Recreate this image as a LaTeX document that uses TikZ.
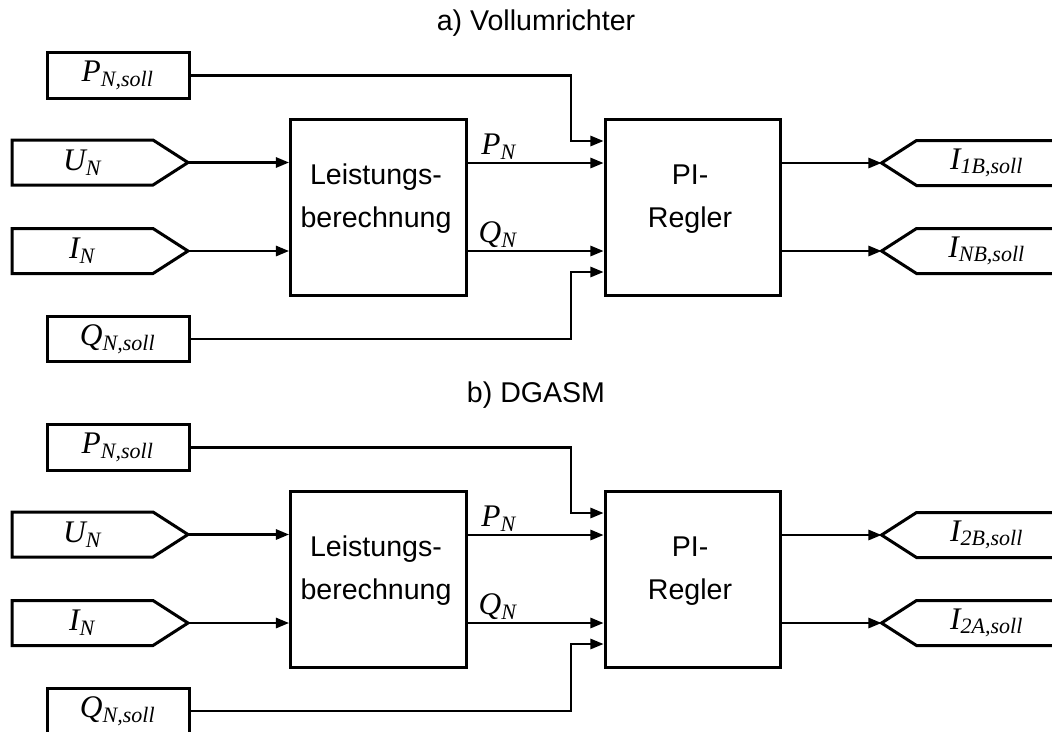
\documentclass[tikz,border=0pt]{standalone}
\usepackage{fontspec}
\setmainfont{Liberation Sans}
\newfontfamily\tnr{Liberation Serif}
\usepackage{tikz}
\usetikzlibrary{calc,arrows.meta,positioning}

\newcommand{\lblfont}{\tnr\itshape\fontsize{11}{13}\selectfont}
\newcommand{\sig}[2]{#1\textsubscript{#2}}

\tikzset{
  blk/.style={draw, line width=1.05pt, minimum width=61.6pt, minimum height=61.6pt, inner sep=0pt},
  sollbox/.style={draw, line width=1.05pt, minimum width=49.7pt, minimum height=15.9pt, inner sep=0pt, font=\lblfont},
  portbox/.style={minimum width=49.35pt, minimum height=15.75pt, inner sep=0pt, outer sep=0pt, font=\lblfont},
  frame/.style={line width=1.05pt, line join=miter},
  wire/.style={line width=0.75pt, -{Triangle[length=4.6pt,width=3.6pt]}},
  blktext/.style={align=center, font=\fontsize{10}{15}\selectfont},
}

\begin{document}
\begin{tikzpicture}[x=0.35pt, y=-0.35pt, line cap=butt]

% ---------------------------------------------------------
% Frame of the picture (pixel coordinates, y downwards)
% ---------------------------------------------------------
\useasboundingbox (0,0) rectangle (1052,731);
\clip (0,0) rectangle (1052,731);

\foreach \dy/\p/\ttl/\outA/\outB in {0/a/Vollumrichter/1B/NB, 372/b/DGASM/2B/2A}{
\begin{scope}[shift={(0,\dy)}]

% ---------------------------------------------------------
% Title
% ---------------------------------------------------------
\node[font=\fontsize{10}{12}\selectfont] (T\p) at (536,23) {\p) \ttl};

% ---------------------------------------------------------
% Blocks
% ---------------------------------------------------------
\node[blk] (LB\p) at (378.5,207) {};
\node[blktext] (LBt\p) at (376,199) {Leistungs-\\berechnung};

\node[blk, minimum width=61.25pt] (PI\p) at (692.5,207) {};
\node[blktext] (PIt\p) at (690,199) {PI-\\Regler};

% ---------------------------------------------------------
% Set points
% ---------------------------------------------------------
\node[sollbox] (PS\p) at (118,75.5) {\sig{P}{N,soll}};
\node[sollbox] (QS\p) at (118,339) {\sig{Q}{N,soll}};

% ---------------------------------------------------------
% Measured inputs (pointing east)
% ---------------------------------------------------------
\node[portbox] (UN\p) at (82.5,162.5) {\sig{U}{N}};
\draw[frame] (UN\p.north west) -- (UN\p.north east) -- ++(35,22.5) coordinate (UNtip\p)
  -- (UN\p.south east) -- (UN\p.south west) -- cycle;

\node[portbox] (IN\p) at (82.5,251) {\sig{I}{N}};
\draw[frame] (IN\p.north west) -- (IN\p.north east) -- ++(35,22.5) coordinate (INtip\p)
  -- (IN\p.south east) -- (IN\p.south west) -- cycle;

% ---------------------------------------------------------
% Outputs (pointing west)
% ---------------------------------------------------------
\node[portbox] (IA\p) at (987,163) {\sig{I}{\outA,soll}};
\draw[frame] (IA\p.north east) -- (IA\p.north west) -- ++(-35,22.5) coordinate (IAtip\p)
  -- (IA\p.south west) -- (IA\p.south east) -- cycle;

\node[portbox] (IB\p) at (987,251) {\sig{I}{\outB,soll}};
\draw[frame] (IB\p.north east) -- (IB\p.north west) -- ++(-35,22.5) coordinate (IBtip\p)
  -- (IB\p.south west) -- (IB\p.south east) -- cycle;

% ---------------------------------------------------------
% Connectors
% ---------------------------------------------------------
\draw[wire] (UNtip\p) -- (UNtip\p -| LB\p.west);
\draw[wire] (INtip\p) -- (INtip\p -| LB\p.west);

\draw[wire] (LB\p.east |- IAtip\p) -- (PI\p.west |- IAtip\p);
\draw[wire] (LB\p.east |- IBtip\p) -- (PI\p.west |- IBtip\p);
\node[font=\lblfont] (PN\p) at (499,147) {\sig{P}{N}};
\node[font=\lblfont] (QN\p) at (498,235) {\sig{Q}{N}};

\coordinate (PSk\p) at (571,141);
\coordinate (QSk\p) at (571,272);
\draw[wire] (PS\p.east) -| (PSk\p) -- (PSk\p -| PI\p.west);
\draw[wire] (QS\p.east) -| (QSk\p) -- (QSk\p -| PI\p.west);

\draw[wire] (PI\p.east |- IAtip\p) -- (IAtip\p);
\draw[wire] (PI\p.east |- IBtip\p) -- (IBtip\p);

\end{scope}
}

\end{tikzpicture}
\end{document}
